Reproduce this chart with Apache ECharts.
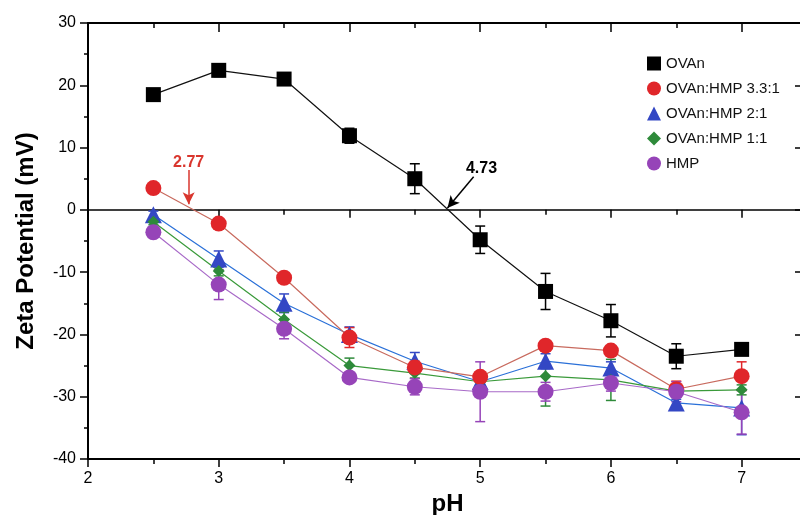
<!DOCTYPE html>
<html>
<head>
<meta charset="utf-8">
<script src="https://cdn.jsdelivr.net/npm/echarts@6/dist/echarts.min.js"></script>
<style>
  html, body { margin: 0; padding: 0; background: #fff; }
  #main { width: 800px; height: 515px; }
</style>
</head>
<body>
<div id="main"></div>
<script>
// pH values shared by all series
const phValues = [2.5, 3, 3.5, 4, 4.5, 5, 5.5, 6, 6.5, 7];

// zeta potential (mV) and error bar half-lengths
const ovan = [18.5, 22.4, 21.0, 11.9, 5.0, -4.8, -13.1, -17.8, -23.5, -22.4];
const ovanErr = [0.6, 1.0, 0.6, 1.2, 2.4, 2.2, 2.9, 2.6, 2.0, 0.5];
const ovanHmp331 = [3.5, -2.2, -10.9, -20.5, -25.3, -26.8, -21.8, -22.6, -28.8, -26.7];
const ovanHmp331Err = [0.5, 0.6, 0.6, 1.6, 1.0, 0.8, 0.6, 0.6, 1.3, 2.3];
const ovanHmp21 = [-0.8, -7.9, -15.0, -20.0, -24.3, -27.6, -24.3, -25.4, -31.0, -31.8];
const ovanHmp21Err = [0.6, 1.3, 1.5, 1.2, 1.4, 0.6, 1.2, 1.0, 0.6, 4.3];
const ovanHmp11 = [-1.9, -9.8, -17.6, -25.0, -26.2, -27.6, -26.7, -27.3, -29.1, -28.9];
const ovanHmp11Err = [0.5, 0.8, 1.2, 1.2, 0.8, 0.6, 4.8, 3.3, 0.8, 0.8];
const hmp = [-3.6, -12.0, -19.1, -26.9, -28.4, -29.2, -29.2, -27.8, -29.2, -32.5];
const hmpErr = [0.5, 2.4, 1.6, 0.6, 1.3, 4.8, 1.5, 1.3, 1.6, 3.5];

// isoelectric points marked with arrows
const iepRed = 2.77;
const iepBlack = 4.73;

const legendNames = ['OVAn', 'OVAn:HMP 3.3:1', 'OVAn:HMP 2:1', 'OVAn:HMP 1:1', 'HMP'];

const font = 'Liberation Sans, Arial, Helvetica, sans-serif';

let chart = echarts.init(document.getElementById('main'), null, { renderer: 'canvas' });

function pairs(y) {
  return phValues.map((x, i) => [x, y[i]]);
}

function bars(y, e) {
  return phValues.map((x, i) => [x, y[i] - e[i], y[i] + e[i]]);
}

function errorSeries(y, e, color) {
  return {
    type: 'custom',
    data: bars(y, e),
    encode: { x: 0, y: [1, 2] },
    z: 2,
    silent: true,
    renderItem: function (params, api) {
      let lo = api.coord([api.value(0), api.value(1)]);
      let hi = api.coord([api.value(0), api.value(2)]);
      let w = 5;
      let style = { stroke: color, lineWidth: 1.5 };
      return {
        type: 'group',
        children: [
          { type: 'line', shape: { x1: lo[0], y1: lo[1], x2: hi[0], y2: hi[1] }, style: style },
          { type: 'line', shape: { x1: lo[0] - w, y1: lo[1], x2: lo[0] + w, y2: lo[1] }, style: style },
          { type: 'line', shape: { x1: hi[0] - w, y1: hi[1], x2: hi[0] + w, y2: hi[1] }, style: style }
        ]
      };
    }
  };
}

function lineSeries(name, y, symbol, size, color, lineColor, z) {
  return {
    name: name,
    type: 'line',
    data: pairs(y),
    symbol: symbol,
    symbolSize: size,
    showAllSymbol: true,
    z: z,
    itemStyle: { color: color, opacity: 1 },
    lineStyle: { color: lineColor, width: 1.2 },
    emphasis: { disabled: true }
  };
}

let ovanLine = lineSeries('OVAn', ovan, 'rect', 15, '#000', '#111', 3);
ovanLine.markLine = {
  silent: true,
  symbol: ['none', 'arrow'],
  symbolSize: [9, 12],
  label: { show: false },
  lineStyle: { color: '#000', width: 1.5, type: 'solid' },
  data: [[{ coord: [4.95, 5.3] }, { coord: [iepBlack + 0.02, 0.3] }]]
};
ovanLine.markPoint = {
  silent: true,
  symbolSize: 0,
  label: { show: true, formatter: String(iepBlack), color: '#000', fontSize: 16, fontWeight: 'bold', fontFamily: font },
  data: [{ coord: [5.01, 6.7] }]
};

let redLine = lineSeries('OVAn:HMP 3.3:1', ovanHmp331, 'circle', 16, '#e0262a', '#c86a5e', 5);
redLine.markLine = {
  silent: true,
  symbol: ['none', 'arrow'],
  symbolSize: [9, 12],
  label: { show: false },
  lineStyle: { color: '#d9362e', width: 1.5, type: 'solid' },
  data: [[{ coord: [iepRed, 6.4] }, { coord: [iepRed, 0.9] }]]
};
redLine.markPoint = {
  silent: true,
  symbolSize: 0,
  label: { show: true, formatter: String(iepRed), color: '#d9362e', fontSize: 16, fontWeight: 'bold', fontFamily: font },
  data: [{ coord: [iepRed, 7.6] }]
};

let blueLine = lineSeries('OVAn:HMP 2:1', ovanHmp21, 'triangle', 17, '#3347c4', '#2a70d8', 4);
let greenLine = lineSeries('OVAn:HMP 1:1', ovanHmp11, 'diamond', 12, '#2e8a3a', '#3a9a3a', 4);
let purpleLine = lineSeries('HMP', hmp, 'circle', 16, '#9644b8', '#a86ac8', 5);

const tickStyle = { color: '#000', width: 1.5 };

let option = {
  animation: false,
  backgroundColor: '#fff',
  textStyle: { fontFamily: font },
  grid: { left: 88, right: -7, top: 23, bottom: 56, outerBoundsMode: 'none', containLabel: false },
  legend: {
    orient: 'vertical',
    left: 647,
    top: 56,
    padding: 0,
    itemWidth: 14,
    itemHeight: 14,
    itemGap: 10,
    selectedMode: false,
    textStyle: { fontSize: 15, color: '#111', fontFamily: font },
    data: [
      { name: legendNames[0], icon: 'rect' },
      { name: legendNames[1], icon: 'circle' },
      { name: legendNames[2], icon: 'triangle' },
      { name: legendNames[3], icon: 'diamond' },
      { name: legendNames[4], icon: 'circle' }
    ]
  },
  xAxis: [
    {
      type: 'value',
      position: 'bottom',
      min: 2,
      max: 7.5,
      interval: 1,
      name: 'pH',
      nameLocation: 'middle',
      nameGap: 33,
      nameTextStyle: { fontSize: 24, fontWeight: 'bold', color: '#000', fontFamily: font },
      axisLine: { onZero: false, lineStyle: { color: '#000', width: 2 } },
      axisTick: { show: true, length: 8, lineStyle: tickStyle },
      minorTick: { show: true, splitNumber: 2, length: 5, lineStyle: tickStyle },
      axisLabel: {
        fontSize: 16, color: '#000', margin: 12, fontFamily: font,
        formatter: v => Number.isInteger(v) ? String(v) : ''
      },
      splitLine: { show: false }
    },
    {
      type: 'value',
      position: 'top',
      min: 2,
      max: 7.5,
      interval: 1,
      axisLine: { onZero: false, lineStyle: { color: '#000', width: 2 } },
      axisTick: { show: true, inside: true, length: 9, lineStyle: tickStyle },
      minorTick: { show: true, splitNumber: 2, length: 5, lineStyle: tickStyle },
      axisLabel: { show: false },
      splitLine: { show: false }
    },
    {
      type: 'value',
      position: 'bottom',
      min: 2,
      max: 7.5,
      interval: 1,
      axisLine: { onZero: true, onZeroAxisIndex: 0, lineStyle: { color: '#000', width: 1.5 } },
      axisTick: { show: true, length: 8, lineStyle: tickStyle },
      minorTick: { show: true, splitNumber: 2, length: 5, lineStyle: tickStyle },
      axisLabel: { show: false },
      splitLine: { show: false }
    }
  ],
  yAxis: [
    {
      type: 'value',
      position: 'left',
      min: -40,
      max: 30,
      interval: 10,
      name: 'Zeta Potential (mV)',
      nameLocation: 'middle',
      nameGap: 50,
      nameTextStyle: { fontSize: 24, fontWeight: 'bold', color: '#000', fontFamily: font },
      axisLine: { show: true, onZero: false, lineStyle: { color: '#000', width: 2 } },
      axisTick: { show: true, length: 8, lineStyle: tickStyle },
      minorTick: { show: true, splitNumber: 2, length: 4, lineStyle: tickStyle },
      axisLabel: { fontSize: 16, color: '#000', margin: 12, fontFamily: font },
      splitLine: { show: false }
    },
    {
      type: 'value',
      position: 'right',
      min: -40,
      max: 30,
      interval: 10,
      axisLine: { show: true, onZero: false, lineStyle: { color: '#000', width: 2 } },
      axisTick: { show: true, inside: true, length: 12, lineStyle: tickStyle },
      axisLabel: { show: false },
      splitLine: { show: false }
    }
  ],
  series: [
    errorSeries(ovan, ovanErr, '#000'),
    errorSeries(ovanHmp21, ovanHmp21Err, '#3347c4'),
    errorSeries(ovanHmp11, ovanHmp11Err, '#2e8a3a'),
    errorSeries(ovanHmp331, ovanHmp331Err, '#e0262a'),
    errorSeries(hmp, hmpErr, '#9644b8'),
    ovanLine,
    blueLine,
    greenLine,
    redLine,
    purpleLine
  ]
};

chart.setOption(option);
</script>
</body>
</html>
